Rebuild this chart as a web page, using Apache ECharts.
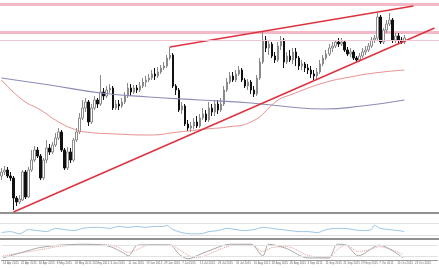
<!DOCTYPE html>
<html><head><meta charset="utf-8">
<script src="https://cdn.jsdelivr.net/npm/echarts@6/dist/echarts.min.js"></script>
<style>html,body{margin:0;padding:0;background:#fff}#c{width:439px;height:268px}</style>
</head><body><div id="c"></div>
<script>
// Daily candles [open, close, low, high] (price units)
const candles = [
[37,41,33,45],[41,43,38,47],[43,37,35,46],[37,35,32,41],[35,15,3,37],[15,11,7,17],[11,14,9,18],[13,41,12,43],[41,16,14,43],[16,43,15,46],
[43,53,41,63],[53,63,51,67],[63,57,55,66],[57,35,33,59],[35,53,33,55],[53,65,50,73],[65,61,58,69],[61,68,59,71],[68,75,66,80],[75,81,73,85],
[81,63,61,83],[63,45,43,65],[45,61,43,66],[61,53,50,65],[53,73,51,75],[73,81,71,85],[81,95,79,100],[95,105,93,113],[105,111,101,115],[111,91,87,113],
[91,105,89,109],[105,113,103,117],[113,109,105,115],[109,121,107,138],[121,117,113,125],[117,123,115,127],[123,125,120,129],[125,105,103,127],[105,109,103,113],[109,107,103,113],
[107,111,105,115],[111,117,109,121],[117,125,115,130],[125,121,117,129],[121,125,119,128],[125,123,120,128],[123,127,121,131],[127,131,125,135],[131,133,126,137],[133,135,131,139],
[135,139,133,143],[139,137,133,145],[137,141,135,146],[141,145,139,148],[145,147,143,151],[147,155,145,158],[155,158,153,166],[158,127,125,160],[127,123,118,129],[123,103,101,125],
[103,107,99,111],[107,89,87,109],[89,85,82,93],[85,87,81,91],[87,91,84,95],[91,87,85,97],[87,95,85,99],[95,99,93,105],[99,93,91,103],[93,105,91,111],
[105,101,97,109],[101,109,97,113],[109,103,99,113],[103,109,101,115],[109,123,107,127],[123,131,121,135],[131,137,129,141],[137,133,131,141],[133,139,131,143],[139,143,137,147],
[143,133,131,145],[133,127,125,135],[127,131,123,134],[131,123,119,133],[123,119,116,127],[119,135,117,138],[135,151,133,155],[151,173,149,181],[173,165,161,177],[165,169,158,173],
[169,157,155,171],[157,153,150,161],[153,167,151,171],[167,173,163,177],[173,151,145,175],[151,157,149,161],[157,153,151,163],[153,161,149,165],[161,155,147,165],[155,147,143,157],
[147,149,143,153],[149,145,141,151],[145,143,139,149],[143,139,135,147],[139,137,133,143],[137,141,133,145],[141,149,139,153],[149,155,147,158],[155,159,153,163],[159,165,157,169],
[165,167,161,171],[167,171,165,173],[171,169,166,175],[169,171,167,175],[171,163,161,173],[163,159,157,166],[159,161,156,165],[161,155,153,163],[155,153,151,157],[153,157,151,160],
[157,161,155,165],[161,163,158,167],[163,167,161,170],[167,173,165,176],[173,175,170,178],[175,196,173,200],[196,171,169,198],[171,183,169,185],[183,189,180,193],[189,193,187,200],
[193,173,170,195],[173,177,170,180],[177,173,169,180],[173,171,169,176],[171,175,169,178]
];
const totalSlots = 146;
const tickLabels = ['14 Apr 2015','22 Apr 2015','30 Apr 2015','8 May 2015','18 May 2015','26 May 2015','3 Jun 2015','11 Jun 2015','19 Jun 2015','29 Jun 2015','7 Jul 2015','15 Jul 2015','23 Jul 2015','31 Jul 2015','10 Aug 2015','18 Aug 2015','26 Aug 2015','3 Sep 2015','11 Sep 2015','21 Sep 2015','29 Sep 2015','7 Oct 2015','15 Oct 2015','23 Oct 2015'];
const tickEvery = 6;
// moving averages [barIndex, value]
const maSlow = [[0,135],[16,128],[33,120],[49,116],[66,113],[83,110],[96,106],[107,104],[120,107],[134,113]];
const maFast = [[0,133],[7,113],[13,103],[19,91],[24,84],[28,81],[38,79],[49,78],[59,81],[68,84],[75,86],[83,91],[92,113],[96,118],[107,130],[116,136],[124,140],[134,143]];
// trend lines [barIndex, value]
const wedgeLower = [[4,1],[144,185]];
const wedgeUpper = [[56,166],[137,207]];
// horizontal zones
const zones = [[207,210],[179,182]];
const levelLine = 173;
// oscillator 1 (0-100)
const osc1 = [[0,32],[3,37],[6,26],[9,47],[12,42],[15,37],[18,53],[21,47],[24,42],[27,53],[30,58],[33,58],[36,53],[39,63],[42,58],[45,63],[48,58],[51,63],[54,63],[55,68],[57,47],[60,32],[63,26],[66,26],[69,37],[72,42],[75,53],[78,47],[81,42],[84,47],[87,58],[90,53],[93,47],[96,42],[99,37],[102,37],[105,32],[108,47],[111,53],[114,53],[117,47],[120,42],[123,47],[124,68],[126,53],[129,47],[132,42],[134,37]];
const osc1Levels = [21,79];
// stochastic main / signal
const stochMain = [[0,11],[11,61],[13,67],[19,78],[27,83],[33,80],[36,70],[40,40],[42,22],[45,78],[50,80],[56,78],[59,30],[62,6],[66,30],[71,61],[76,83],[83,83],[87,22],[89,83],[95,60],[102,11],[109,11],[112,83],[115,78],[119,22],[126,78],[134,11]];
const stochSignal = [[0,20],[3,30],[13,55],[19,72],[27,80],[33,82],[38,70],[42,40],[45,55],[48,75],[56,80],[59,55],[62,25],[65,12],[71,45],[76,75],[83,82],[87,45],[90,65],[95,70],[102,25],[109,10],[112,55],[115,78],[119,45],[123,55],[126,70],[130,55],[134,30]];
const stochLevels = [20,80];

const cats = [];
for (let i = 0; i < totalSlots; i++) cats.push(i % tickEvery === 0 && tickLabels[i / tickEvery] ? tickLabels[i / tickEvery] : '');

const chart = echarts.init(document.getElementById('c'), null, {renderer:'canvas'});
const sepLine = {show:true, lineStyle:{color:'#6b6b6b', width:1.5}};
chart.setOption({
  animation:false,
  backgroundColor:'#ffffff',
  grid:[
    {left:0,right:0,top:0,height:218},
    {left:0,right:0,top:219,height:20},
    {left:0,right:0,top:241,height:19}
  ],
  xAxis:[
    {type:'category',gridIndex:0,data:cats,boundaryGap:true,axisTick:{show:false},axisLabel:{show:false},axisLine:sepLine,splitLine:{show:false}},
    {type:'category',gridIndex:1,data:cats,boundaryGap:true,axisTick:{show:false},axisLabel:{show:false},axisLine:sepLine,splitLine:{show:false}},
    {type:'category',gridIndex:2,data:cats,boundaryGap:true,axisTick:{show:false},
     axisLabel:{show:true,interval:0,fontSize:2.9,color:'#666',align:'left',margin:2,fontFamily:'Liberation Sans'},
     axisLine:{show:true,lineStyle:{color:'#999',width:1}},splitLine:{show:false}}
  ],
  yAxis:[
    {type:'value',gridIndex:0,min:-5,max:213,show:false},
    {type:'value',gridIndex:1,min:0,max:100,show:false},
    {type:'value',gridIndex:2,min:0,max:100,show:false}
  ],
  series:[
    {type:'line',xAxisIndex:0,yAxisIndex:0,data:[],silent:true,
     markArea:{silent:true,itemStyle:{color:'#f4b9c7'},data:zones.map(z=>[{yAxis:z[0]},{yAxis:z[1]}])},
     markLine:{silent:true,symbol:'none',label:{show:false},lineStyle:{color:'#f2c4cf',width:1,type:'solid'},data:[{yAxis:levelLine}]}},
    {type:'line',xAxisIndex:0,yAxisIndex:0,data:maSlow,smooth:true,symbol:'none',lineStyle:{color:'#8c8cb8',width:1.2}},
    {type:'line',xAxisIndex:0,yAxisIndex:0,data:maFast,smooth:true,symbol:'none',lineStyle:{color:'#e89090',width:1}},
    {type:'candlestick',xAxisIndex:0,yAxisIndex:0,data:candles,barWidth:2,
     itemStyle:{color:'#ffffff',color0:'#111111',borderColor:'#8a8a8a',borderColor0:'#111111',borderWidth:1}},
    {type:'line',xAxisIndex:0,yAxisIndex:0,data:wedgeLower,symbol:'none',lineStyle:{color:'#dd3340',width:1.5}},
    {type:'line',xAxisIndex:0,yAxisIndex:0,data:wedgeUpper,symbol:'none',lineStyle:{color:'#dd3340',width:1.5}},
    {type:'line',xAxisIndex:1,yAxisIndex:1,data:osc1,symbol:'none',smooth:0.3,lineStyle:{color:'#9cc6e6',width:1},
     markLine:{silent:true,symbol:'none',label:{show:false},lineStyle:{color:'#e2e2e2',width:1,type:'solid'},data:osc1Levels.map(v=>({yAxis:v}))}},
    {type:'line',xAxisIndex:2,yAxisIndex:2,data:stochSignal,symbol:'none',smooth:0.3,lineStyle:{color:'#e39a9a',width:1,type:'dotted'},
     markLine:{silent:true,symbol:'none',label:{show:false},lineStyle:{color:'#e2e2e2',width:1,type:'solid'},data:stochLevels.map(v=>({yAxis:v}))}},
    {type:'line',xAxisIndex:2,yAxisIndex:2,data:stochMain,symbol:'none',smooth:0.3,lineStyle:{color:'#a8a8a8',width:1}}
  ]
});
</script></body></html>
